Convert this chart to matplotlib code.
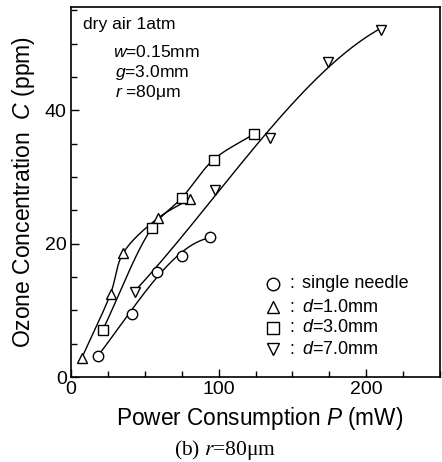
import numpy as np
import matplotlib
matplotlib.use("Agg")
import matplotlib.pyplot as plt
from matplotlib.ticker import MultipleLocator

plt.rcParams['font.family'] = ['Liberation Sans', 'DejaVu Sans']
plt.rcParams['mathtext.fontset'] = 'custom'
plt.rcParams['mathtext.rm'] = 'Liberation Sans'
plt.rcParams['mathtext.it'] = 'Liberation Sans:italic'

# Data (P in mW, C in ppm)
single_P = [18, 41, 58, 75, 94]
single_C = [3.2, 9.5, 15.8, 18.1, 21.0]
d1_P = [7.4, 26.8, 35.4, 58.8, 80.4]
d1_C = [2.9, 12.5, 18.6, 23.8, 26.7]
d3_P = [21.4, 55, 75.2, 96.6, 124.3]
d3_C = [7.0, 22.4, 26.9, 32.6, 36.5]
d7_P = [43.4, 97.8, 134.9, 174, 210.3]
d7_C = [12.8, 28.0, 35.9, 47.3, 52.1]

labels = ["single needle", "$d$=1.0mm", "$d$=3.0mm", "$d$=7.0mm"]
markers = ["o", "^", "s", "v"]

SX, SY = 1.48, 6.67  # display scale used for centripetal parameterization


def catmull(xs, ys, n=40):
    """Centripetal Catmull-Rom curve through the data points."""
    P = np.column_stack([np.asarray(xs, float) * SX, np.asarray(ys, float) * SY])
    P = np.vstack([2 * P[0] - P[1], P, 2 * P[-1] - P[-2]])
    out = []
    for i in range(1, len(P) - 2):
        p0, p1, p2, p3 = P[i - 1], P[i], P[i + 1], P[i + 2]
        t0 = 0.0
        t1 = t0 + np.linalg.norm(p1 - p0) ** 0.5
        t2 = t1 + np.linalg.norm(p2 - p1) ** 0.5
        t3 = t2 + np.linalg.norm(p3 - p2) ** 0.5
        t = np.linspace(t1, t2, n)[:, None]
        a1 = (t1 - t) / (t1 - t0) * p0 + (t - t0) / (t1 - t0) * p1
        a2 = (t2 - t) / (t2 - t1) * p1 + (t - t1) / (t2 - t1) * p2
        a3 = (t3 - t) / (t3 - t2) * p2 + (t - t2) / (t3 - t2) * p3
        b1 = (t2 - t) / (t2 - t0) * a1 + (t - t0) / (t2 - t0) * a2
        b2 = (t3 - t) / (t3 - t1) * a2 + (t - t1) / (t3 - t1) * a3
        c = (t2 - t) / (t2 - t1) * b1 + (t - t1) / (t2 - t1) * b2
        out.append(c)
    c = np.vstack(out)
    return c[:, 0] / SX, c[:, 1] / SY


def polyfit_curve(xs, ys, deg=3, n=200):
    x = np.asarray(xs, float)
    coef = np.polyfit(x, np.asarray(ys, float), deg)
    xx = np.linspace(x[0], x[-1], n)
    return xx, np.polyval(coef, xx)


fig = plt.figure(figsize=(4.42, 4.62), dpi=100)
ax = fig.add_axes([71 / 442, 1 - 377 / 462, 369 / 442, 370 / 462])

series = [(single_P, single_C), (d1_P, d1_C), (d3_P, d3_C), (d7_P, d7_C)]
fitters = [polyfit_curve, catmull, catmull, polyfit_curve]
for (P, C), m, fit in zip(series, markers, fitters):
    sx, sy = fit(P, C)
    ax.plot(sx, sy, color='black', lw=1.0, zorder=2)
    ms = 6.5 if m == 's' else 7.5
    ax.plot(P, C, linestyle='none', marker=m, ms=ms, mfc='white',
            mec='black', mew=1.0, zorder=3)

ax.set_xlim(0, 250)
ax.set_ylim(0, 55.5)
ax.xaxis.set_major_locator(MultipleLocator(100))
ax.xaxis.set_minor_locator(MultipleLocator(25))
ax.yaxis.set_major_locator(MultipleLocator(20))
ax.yaxis.set_minor_locator(MultipleLocator(5))
ax.tick_params(which='both', direction='in', labelsize=14, width=1,
               top=False, right=False, pad=3)
ax.tick_params(which='major', length=6)
ax.tick_params(which='minor', length=4)
for s in ax.spines.values():
    s.set_linewidth(1.2)

ax.set_xlabel("Power Consumption $P$ (mW)", fontsize=16.3, labelpad=5)
ax.xaxis.set_label_coords((260 - 71) / 369, -0.075)
ax.xaxis.label.set_va('top')
ax.set_ylabel("Ozone Concentration  $C$ (ppm)", fontsize=16.5, labelpad=6)

# annotation text
fs = 12.6
ax.text(12 / 369, 1 - 18 / 370, "dry air 1atm", transform=ax.transAxes,
        fontsize=fs, va='center', ha='left')
ax.text(42 / 369, 1 - 45 / 370, "$w$=0.15mm", transform=ax.transAxes,
        fontsize=fs, va='center', ha='left')
ax.text(44 / 369, 1 - 65 / 370, "$g$=3.0mm", transform=ax.transAxes,
        fontsize=fs, va='center', ha='left')
ax.text(44 / 369, 1 - 85 / 370, "$r$ =80\u03bcm", transform=ax.transAxes,
        fontsize=fs, va='center', ha='left')

# legend
fl = 13
rows = [284, 307, 328, 349]
for lab, m, ry in zip(labels, markers, rows):
    yy = (377 - ry) / 370
    ms = 8 if m == 's' else 9
    ax.plot([(273 - 71) / 369], [yy], transform=ax.transAxes, marker=m,
            ms=ms, mfc='white', mec='black', mew=1.0, linestyle='none',
            clip_on=False)
    ax.text((289 - 71) / 369, yy, ":", transform=ax.transAxes,
            fontsize=fl, va='center', ha='left')
    ax.text((302 - 71) / 369, yy, lab, transform=ax.transAxes,
            fontsize=fl, va='center', ha='left')

fig.text(225 / 442, 1 - 450 / 462, "(b) $r$=80\u03bcm", ha='center',
         va='center', fontsize=15.5, family='Liberation Serif',
         math_fontfamily='stix')

fig.savefig("out.png", dpi=100)
